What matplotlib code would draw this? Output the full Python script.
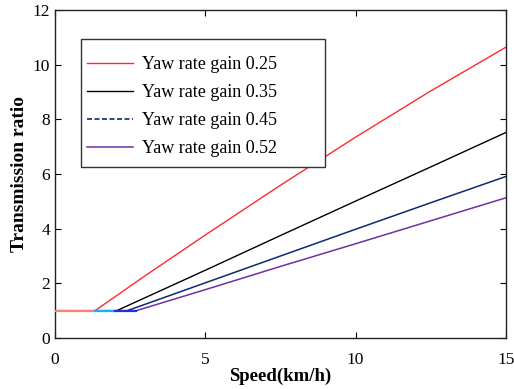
import matplotlib
matplotlib.use("Agg")
from matplotlib import pyplot as plt
from matplotlib.lines import Line2D
from matplotlib.patches import Rectangle

plt.rcParams['font.family'] = ['Liberation Serif', 'DejaVu Serif']

# speed (km/h) and transmission ratio
red_x = [0, 1.33, 3, 5, 7.5, 10, 12.5, 15]
red_y = [1, 1, 2.28, 3.77, 5.59, 7.35, 9.04, 10.64]

black_x = [0, 2.05, 5, 7.5, 10, 12.5, 15]
black_y = [1, 1, 2.48, 3.75, 5.01, 6.26, 7.52]

blue_x = [0, 2.4, 5, 7.5, 10, 12.5, 15]
blue_y = [1, 1, 2.02, 3.0, 3.98, 4.95, 5.91]

purple_x = [0, 2.7, 5, 7.5, 10, 12.5, 15]
purple_y = [1, 1, 1.77, 2.62, 3.45, 4.29, 5.13]

labels = ['Yaw rate gain 0.25', 'Yaw rate gain 0.35',
          'Yaw rate gain 0.45', 'Yaw rate gain 0.52']
colors = ['#ff2a2a', '#000000', '#0c2a6e', '#7030a0']

# the flat part at ratio 1 shows up in other colours in the reference
flat_x = [0, 1.33, 2.0, 2.7]
flat_colors = ['#ff7f7f', '#1ab2e6', '#2030e0']

fig = plt.figure(figsize=(5.14, 3.89), dpi=100)
ax = fig.add_axes([0.107, 0.131, 0.877, 0.843])

ax.plot(purple_x, purple_y, color=colors[3], lw=1.1)
ax.plot(blue_x, blue_y, color=colors[2], lw=1.1)
ax.plot(black_x, black_y, color=colors[1], lw=1.0)
ax.plot(red_x, red_y, color=colors[0], lw=1.0)
for i in range(3):
    ax.plot([flat_x[i], flat_x[i + 1]], [1, 1], color=flat_colors[i], lw=1.6, zorder=3)

ax.set_xlim(0, 15)
ax.set_ylim(0, 12)
ax.set_xticks([0, 5, 10, 15])
ax.set_yticks([0, 2, 4, 6, 8, 10, 12])
ax.tick_params(direction='in', length=4, width=0.8, top=True, right=True,
               labelsize=12.5)
ax.tick_params(axis='x', pad=10)
ax.tick_params(axis='y', pad=3.5)
for s in ax.spines.values():
    s.set_linewidth(1.0)
    s.set_color('#222222')

ax.set_xlabel('Speed(km/h)', fontsize=13.5, fontweight='bold', labelpad=0)
ax.set_ylabel('Transmission ratio', fontsize=14, fontweight='bold', labelpad=3)

handles = [Line2D([], [], color=colors[0], lw=1.0),
           Line2D([], [], color=colors[1], lw=1.0),
           Line2D([], [], color=colors[2], lw=1.2, ls=(0, (3, 1.5))),
           Line2D([], [], color=colors[3], lw=1.1)]
leg = ax.legend(handles, labels, loc='upper left', bbox_to_anchor=(0.033, 0.911),
                fontsize=13, frameon=False, borderpad=0.95, labelspacing=0.6,
                handlelength=2.55, handletextpad=0.5, borderaxespad=0)
leg.set_zorder(6)
# MATLAB style legend box, wider on the right than the entries
ax.add_patch(Rectangle((0.057, 0.521), 0.542, 0.39, transform=ax.transAxes,
                       facecolor='white', edgecolor='#333333', lw=1.0, zorder=5))

fig.savefig('out.png', dpi=100)
